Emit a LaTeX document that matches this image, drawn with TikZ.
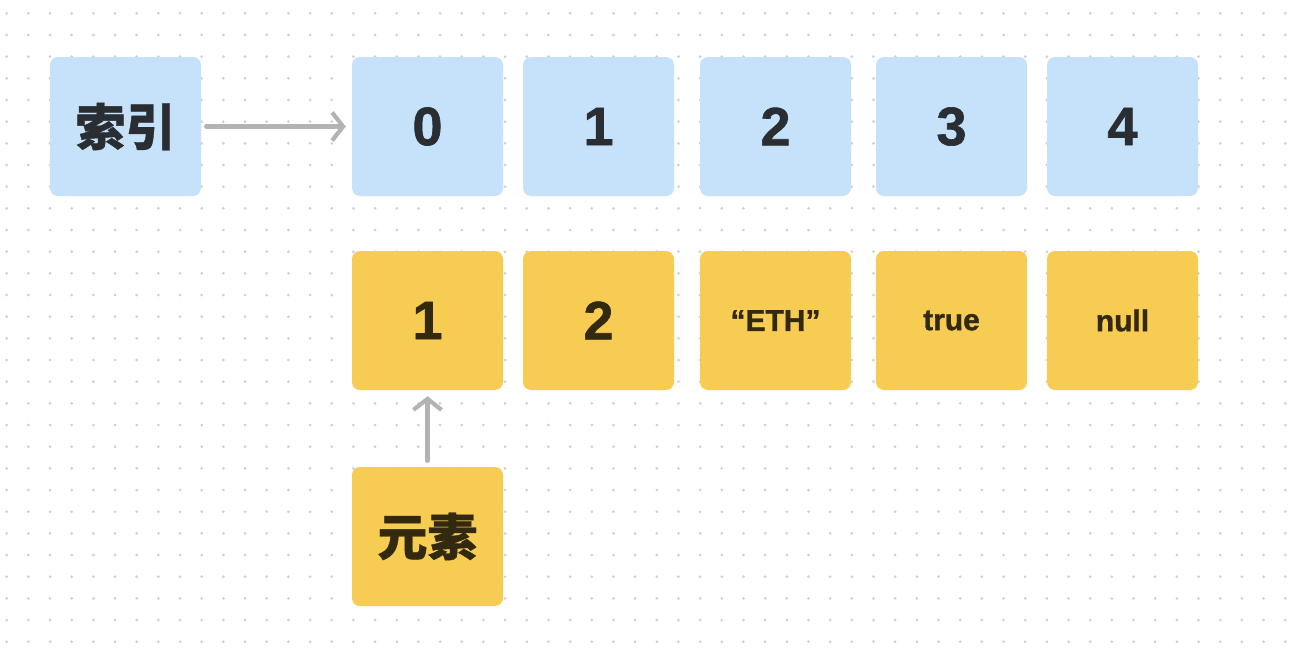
\documentclass[tikz,border=0pt]{standalone}
\usepackage{fontspec}
\setmainfont{Liberation Sans}[BoldFeatures={FakeBold=1.2}]
\newfontfamily\cjk{Noto Sans CJK SC}[BoldFeatures={FakeBold=0.8}]
\usetikzlibrary{arrows.meta}
\definecolor{bluebox}{HTML}{C5E2FA}
\definecolor{yellowbox}{HTML}{F7CC52}
\definecolor{bluetext}{HTML}{2A2E33}
\definecolor{yellowtext}{HTML}{33290F}
\definecolor{arrowgray}{HTML}{B3B3B3}
\definecolor{dotgray}{HTML}{D0D0D0}
\tikzset{
  cell/.style={rectangle, rounded corners=8pt, minimum width=151pt, minimum height=139pt, inner sep=0pt, font=\bfseries},
  idx/.style={cell, fill=bluebox, text=bluetext},
  elem/.style={cell, fill=yellowbox, text=yellowtext},
  bignum/.style={font=\fontsize{54}{60}\selectfont\bfseries},
  smalltxt/.style={font=\fontsize{30}{34}\selectfont\bfseries},
  cjktxt/.style={font=\fontsize{50}{56}\selectfont\cjk\bfseries},
  conn/.style={draw=arrowgray, line width=4.2pt, line cap=round, -{Straight Barb[length=11pt, width=28pt, line width=4.2pt]}}
}
\begin{document}
\begin{tikzpicture}[x=1pt, y=-1pt]
\useasboundingbox (0,0) rectangle (1294,656);
\fill[white] (0,0) rectangle (1294,656);
\foreach \i in {0,...,59} {
  \foreach \j in {0,...,29} {
    \fill[dotgray] ({6.7+21.67*\i},{13.3+21.67*\j}) circle (1.5pt);
  }
}
\node[idx, cjktxt] (sy) at (125.5,126.5) {索引};
\node[idx, bignum] (i0) at (427.5,126.5) {0};
\node[idx, bignum] (i1) at (598.5,126.5) {1};
\node[idx, bignum] (i2) at (775.5,126.5) {2};
\node[idx, bignum] (i3) at (951.5,126.5) {3};
\node[idx, bignum] (i4) at (1122.5,126.5) {4};
\node[elem, bignum] (e0) at (427.5,320.5) {1};
\node[elem, bignum] (e1) at (598.5,320.5) {2};
\node[elem, smalltxt] (e2) at (775.5,320.5) {“ETH”};
\node[elem, smalltxt] (e3) at (951.5,320.5) {true};
\node[elem, smalltxt] (e4) at (1122.5,320.5) {null};
\node[elem, cjktxt] (ys) at (427.5,536.5) {元素};
\draw[conn, shorten <=5pt, shorten >=6pt] (sy.east) -- (i0.west);
\draw[conn, shorten <=6pt, shorten >=6pt] (ys.north) -- (e0.south);
\end{tikzpicture}
\end{document}
